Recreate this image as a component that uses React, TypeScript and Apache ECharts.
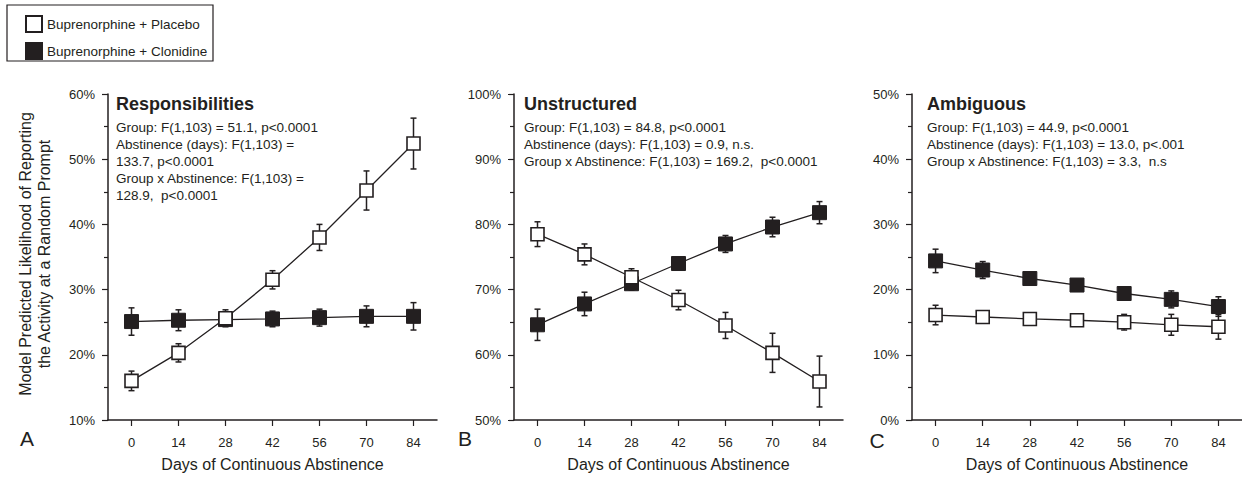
import React, { useEffect, useRef } from "react";
import * as echarts from "echarts";

const days = ["0", "14", "28", "42", "56", "70", "84"];

const respPlacebo = [16.0, 20.3, 25.6, 31.5, 38.0, 45.2, 52.4];
const respPlaceboErr = [1.5, 1.4, 1.3, 1.4, 2.0, 3.0, 3.9];
const respClonidine = [25.1, 25.3, 25.4, 25.5, 25.7, 25.9, 25.9];
const respClonidineErr = [2.1, 1.6, 1.0, 1.2, 1.3, 1.6, 2.1];

const unstrPlacebo = [78.5, 75.4, 71.9, 68.4, 64.5, 60.3, 55.9];
const unstrPlaceboErr = [1.9, 1.6, 1.3, 1.5, 2.0, 3.0, 3.9];
const unstrClonidine = [64.6, 67.8, 70.9, 74.0, 77.0, 79.6, 81.8];
const unstrClonidineErr = [2.4, 1.8, 1.0, 0.8, 1.3, 1.5, 1.7];

const ambPlacebo = [16.1, 15.8, 15.5, 15.3, 15.0, 14.6, 14.3];
const ambPlaceboErr = [1.5, 0.9, 0.6, 0.9, 1.2, 1.6, 1.9];
const ambClonidine = [24.4, 23.0, 21.7, 20.7, 19.4, 18.5, 17.4];
const ambClonidineErr = [1.8, 1.3, 0.8, 0.5, 0.9, 1.3, 1.5];

const yMins = [10, 50, 0];
const yMaxs = [60, 100, 50];

const panelTitles = ["Responsibilities", "Unstructured", "Ambiguous"];
const panelStats = [
  [
    "Group: F(1,103) = 51.1, p<0.0001",
    "Abstinence (days): F(1,103) =",
    "133.7, p<0.0001",
    "Group x Abstinence: F(1,103) =",
    "128.9,  p<0.0001",
  ],
  [
    "Group: F(1,103) = 84.8, p<0.0001",
    "Abstinence (days): F(1,103) = 0.9, n.s.",
    "Group x Abstinence: F(1,103) = 169.2,  p<0.0001",
  ],
  [
    "Group: F(1,103) = 44.9, p<0.0001",
    "Abstinence (days): F(1,103) = 13.0, p<.001",
    "Group x Abstinence: F(1,103) = 3.3,  n.s",
  ],
];
const panelLetters = ["A", "B", "C"];

const PLACEBO = "Buprenorphine + Placebo";
const CLONIDINE = "Buprenorphine + Clonidine";
const INK = "#231f20";
const FONT = '"Liberation Sans", Arial, sans-serif';

const panels = [
  { placebo: respPlacebo, placeboErr: respPlaceboErr, clon: respClonidine, clonErr: respClonidineErr },
  { placebo: unstrPlacebo, placeboErr: unstrPlaceboErr, clon: unstrClonidine, clonErr: unstrClonidineErr },
  { placebo: ambPlacebo, placeboErr: ambPlaceboErr, clon: ambClonidine, clonErr: ambClonidineErr },
];

// layout
const gridLefts = [108, 514, 912];
const gridWidths = [329, 329, 330];
const gridTop = 94;
const gridHeight = 330;
const textLefts = [116, 524, 927];
const letterPos = [
  [27, 438],
  [465, 438],
  [877, 440],
];

function errorRender(params: any, api: any) {
  const idx = api.value(0);
  const v = api.value(1);
  const e = api.value(2);
  const top = api.coord([idx, v + e]);
  const bot = api.coord([idx, v - e]);
  const hw = 3;
  const style = { stroke: INK, lineWidth: 1.5 };
  return {
    type: "group",
    children: [
      { type: "line", shape: { x1: top[0], y1: top[1], x2: bot[0], y2: bot[1] }, style },
      { type: "line", shape: { x1: top[0] - hw, y1: top[1], x2: top[0] + hw, y2: top[1] }, style },
      { type: "line", shape: { x1: bot[0] - hw, y1: bot[1], x2: bot[0] + hw, y2: bot[1] }, style },
    ],
  };
}

export default function App() {
  const ref = useRef<HTMLDivElement>(null);
  useEffect(() => {
    if (!ref.current) return;
    const chart = echarts.init(ref.current, null, { renderer: "svg" });

    const grids: any[] = [];
    const xAxes: any[] = [];
    const yAxes: any[] = [];
    const series: any[] = [];
    const graphics: any[] = [];

    panels.forEach((p, i) => {
      grids.push({ left: gridLefts[i], top: gridTop, width: gridWidths[i], height: gridHeight });
      xAxes.push({
        type: "category",
        gridIndex: i,
        data: days,
        boundaryGap: true,
        name: "Days of Continuous Abstinence",
        nameLocation: "middle",
        nameGap: 36,
        nameTextStyle: { fontSize: 16, color: INK, fontFamily: FONT },
        axisLine: { show: true, lineStyle: { color: INK, width: 1.5 } },
        axisTick: { show: true, alignWithLabel: true, length: 6, lineStyle: { color: INK, width: 1.2 } },
        axisLabel: { fontSize: 13, color: INK, fontFamily: FONT, margin: 16 },
        splitLine: { show: false },
      });
      yAxes.push({
        type: "value",
        gridIndex: i,
        min: yMins[i],
        max: yMaxs[i],
        interval: 10,
        axisLine: { show: true, lineStyle: { color: INK, width: 1.5 } },
        axisTick: { show: true, length: 6, lineStyle: { color: INK, width: 1.2 } },
        minorTick: { show: true, splitNumber: 2, length: 4, lineStyle: { color: INK, width: 1.2 } },
        axisLabel: { fontSize: 13, color: INK, fontFamily: FONT, margin: 13, formatter: "{value}%" },
        splitLine: { show: false },
        minorSplitLine: { show: false },
      });

      const errData = [
        ...p.placebo.map((v, k) => [k, v, p.placeboErr[k]]),
        ...p.clon.map((v, k) => [k, v, p.clonErr[k]]),
      ];
      series.push({
        type: "custom",
        xAxisIndex: i,
        yAxisIndex: i,
        renderItem: errorRender,
        data: errData,
        encode: { x: 0, y: 1 },
        z: 1,
        silent: true,
      });
      series.push({
        name: CLONIDINE,
        type: "line",
        xAxisIndex: i,
        yAxisIndex: i,
        data: p.clon,
        symbol: "rect",
        symbolSize: 14,
        lineStyle: { color: INK, width: 1.3 },
        itemStyle: { color: INK, borderColor: INK, borderWidth: 1 },
        z: 2,
      });
      series.push({
        name: PLACEBO,
        type: "line",
        xAxisIndex: i,
        yAxisIndex: i,
        data: p.placebo,
        symbol: "rect",
        symbolSize: 13,
        lineStyle: { color: INK, width: 1.3 },
        itemStyle: { color: "#ffffff", borderColor: INK, borderWidth: 1.6 },
        z: 3,
      });

      graphics.push({
        type: "text",
        x: textLefts[i],
        y: 103.5,
        style: {
          text: panelTitles[i],
          fill: INK,
          fontSize: 18,
          fontWeight: "bold",
          fontFamily: FONT,
          textAlign: "left",
          textVerticalAlign: "middle",
          align: "left",
          verticalAlign: "middle",
        },
      });
      panelStats[i].forEach((line, k) => {
        graphics.push({
          type: "text",
          x: textLefts[i],
          y: 127.5 + k * 16.9,
          style: {
            text: line,
            fill: INK,
            fontSize: 13.5,
            fontFamily: FONT,
            textAlign: "left",
            textVerticalAlign: "middle",
            align: "left",
            verticalAlign: "middle",
          },
        });
      });
      graphics.push({
        type: "text",
        x: letterPos[i][0],
        y: letterPos[i][1],
        style: {
          text: panelLetters[i],
          fill: INK,
          fontSize: 21,
          fontFamily: FONT,
          textAlign: "center",
          textVerticalAlign: "middle",
          align: "center",
          verticalAlign: "middle",
        },
      });
    });

    graphics.push({
      type: "text",
      x: 35,
      y: 254,
      rotation: Math.PI / 2,
      style: {
        text: "Model Predicted Likelihood of Reporting\nthe Activity at a Random Prompt",
        fill: INK,
        fontSize: 16,
        lineHeight: 19,
        fontFamily: FONT,
        textAlign: "center",
        textVerticalAlign: "middle",
        align: "center",
        verticalAlign: "middle",
      },
    });
    graphics.push({
      type: "rect",
      shape: { x: 7, y: 5, width: 206, height: 56 },
      style: { fill: "none", stroke: INK, lineWidth: 1.2 },
    });

    chart.setOption({
      animation: false,
      backgroundColor: "#ffffff",
      textStyle: { fontFamily: FONT },
      legend: {
        data: [PLACEBO, CLONIDINE],
        orient: "vertical",
        left: 20,
        top: 10,
        itemWidth: 16,
        itemHeight: 16,
        itemGap: 9,
        icon: "rect",
        textStyle: { fontSize: 13.5, color: INK, fontFamily: FONT },
        selectedMode: false,
      },
      grid: grids,
      xAxis: xAxes,
      yAxis: yAxes,
      series,
      graphic: graphics,
    });

    return () => chart.dispose();
  }, []);

  return (
    <div
      ref={ref}
      style={{ position: "fixed", left: 0, top: 0, width: 1242, height: 477, background: "#fff" }}
    />
  );
}
